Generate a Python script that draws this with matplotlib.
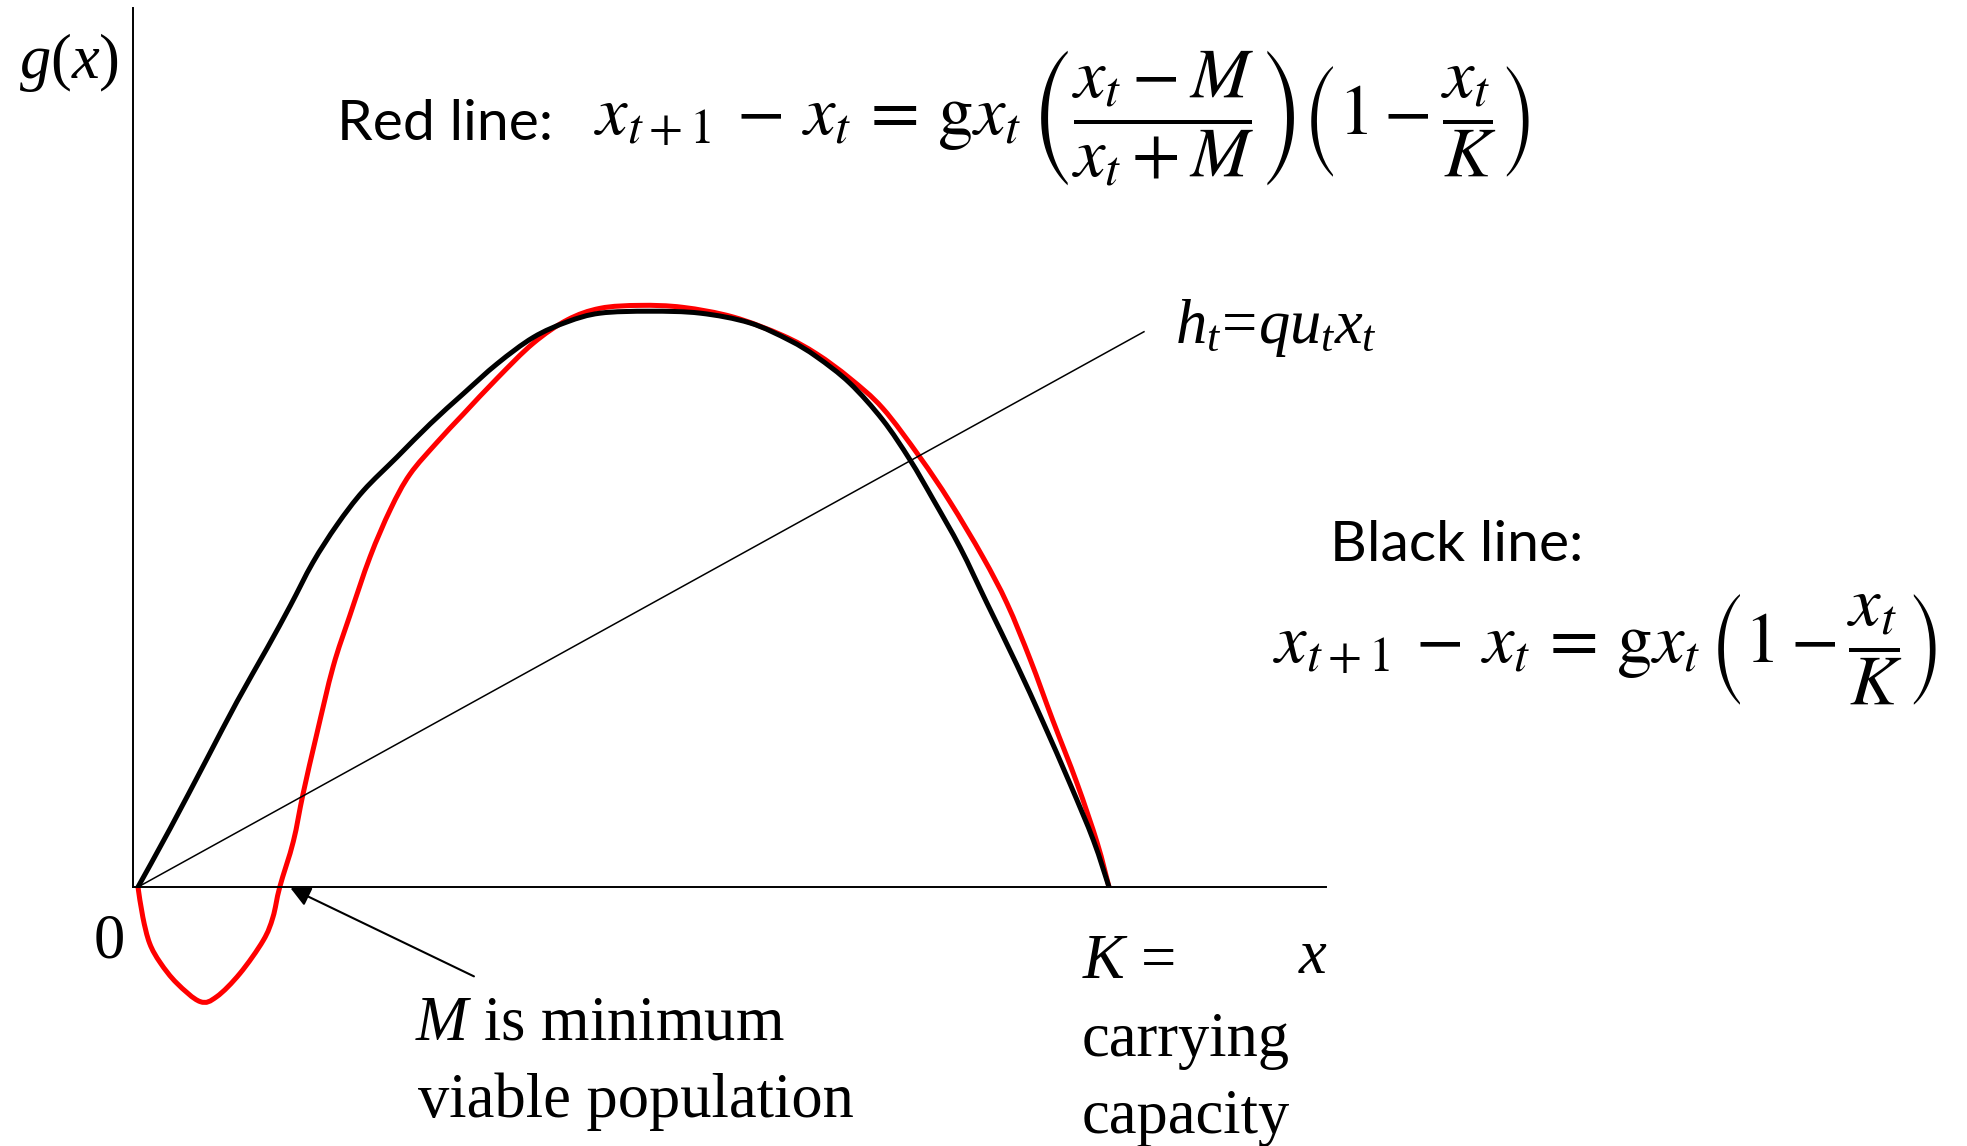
import numpy as np
import matplotlib
matplotlib.use("Agg")
import matplotlib.pyplot as plt
from matplotlib.path import Path
from matplotlib.patches import PathPatch

plt.rcParams['mathtext.fontset'] = 'custom'
plt.rcParams['mathtext.rm'] = 'Liberation Serif'
plt.rcParams['mathtext.it'] = 'Liberation Serif:italic'
plt.rcParams['mathtext.bf'] = 'Liberation Serif:bold'

# carrying capacity and minimum viable population
K = 100.0
M = 14.6

# logistic growth (black)
black_x = [0.0, 3.3, 7.1, 10.2, 13.3, 15.7, 18.0, 20.5, 23.2, 26.7, 30.1, 33.5, 37.0,
           40.7, 44.2, 47.6, 52.7, 57.9, 63.0, 67.1, 69.9, 73.3, 76.7, 79.5, 81.9,
           84.7, 87.4, 90.5, 93.2, 96.0, 98.4, 100.0]
black_y = [0.0, 6.0, 13.2, 19.1, 24.6, 29.0, 33.4, 37.3, 40.8, 44.3, 47.7, 50.8, 53.9,
           56.6, 58.2, 59.1, 59.3, 59.1, 58.1, 56.3, 54.6, 51.9, 48.1, 44.0, 39.9,
           34.9, 29.3, 22.9, 17.0, 10.6, 4.8, 0.0]

# growth with depensation (red)
red_x = [0.0, 0.5, 1.2, 2.3, 4.0, 6.4, 8.1, 10.5, 12.9, 13.9, 14.6, 16.0, 17.0, 18.4,
         20.1, 21.8, 23.9, 26.0, 28.0, 30.8, 33.5, 37.0, 40.7, 44.2, 47.6, 51.7, 56.1,
         61.3, 66.4, 69.9, 73.3, 76.7, 80.5, 83.6, 87.0, 89.5, 91.9, 94.2, 96.7, 98.8, 100.0]
red_y = [0.0, -3.1, -5.8, -7.8, -9.9, -11.8, -11.3, -8.9, -5.5, -3.1, 0.0, 4.7, 9.6, 15.7,
         22.7, 27.9, 34.0, 38.9, 42.5, 45.8, 48.7, 52.4, 56.0, 58.4, 59.6, 59.9, 59.7,
         58.7, 56.8, 54.9, 52.4, 49.3, 44.3, 39.7, 34.0, 29.2, 23.4, 17.2, 10.7, 4.5, 0.0]

# harvest h = q*u*x
qu = 0.552
harvest_x = [0.0, 103.6]


def smooth_path(xs, ys):
    # cubic Bezier through the given points (Catmull-Rom tangents)
    p = np.column_stack([xs, ys]).astype(float)
    ext = np.vstack([p[0], p, p[-1]])
    verts = [p[0]]
    codes = [Path.MOVETO]
    for i in range(len(p) - 1):
        p0, p1, p2, p3 = ext[i], ext[i + 1], ext[i + 2], ext[i + 3]
        verts += [p1 + (p2 - p0) / 6, p2 - (p3 - p1) / 6, p2]
        codes += [Path.CURVE4] * 3
    return Path(verts, codes)


W, H = 1967, 1146
fig = plt.figure(figsize=(W / 100, H / 100), dpi=100)
ax = fig.add_axes([0, 0, 1, 1])
ax.set_xlim(-14.21, 188.36)
ax.set_ylim(-26.67, 91.35)
ax.axis('off')

# axes drawn by hand
ax.plot([-0.5, -0.5], [0, 90.5], color='black', lw=1.4)
ax.plot([-0.5, 122.3], [0, 0], color='black', lw=1.4)

ax.plot(harvest_x, [qu * v for v in harvest_x], color='black', lw=1.1)
ax.add_patch(PathPatch(smooth_path(red_x, red_y), fill=False, edgecolor='#ff0000',
                       lw=3.6, joinstyle='round', capstyle='butt'))
ax.add_patch(PathPatch(smooth_path(black_x, black_y), fill=False, edgecolor='black',
                       lw=3.6, joinstyle='round', capstyle='butt'))

ax.annotate('', xy=(M + 1.1, -0.1), xytext=(34.6, -9.2),
            arrowprops=dict(arrowstyle='-|>', color='black', lw=1.5, mutation_scale=30,
                            shrinkA=0, shrinkB=0))


def put(x, y, s, **kw):
    fig.text(x / W, 1 - y / H, s, **kw)


serif = dict(family='Liberation Serif', size=45, va='baseline', ha='left')
sans = dict(family='Lato', size=41, va='baseline', ha='left')

put(19, 78, r'$g(x)$', **serif)
put(94, 958, '0', **serif)
put(415, 1040, r'$M$ is minimum', **serif)
put(418, 1117, 'viable population', **serif)
put(1082, 978, r'$K$ =', **serif)
put(1298, 973, r'$x$', **serif)
put(1082, 1056, 'carrying', **serif)
put(1082, 1133, 'capacity', **serif)
put(1175, 343, r'$h_t\!=\!qu_tx_t$', **serif)

put(337, 140, 'Red line:', **sans)
put(1330, 561, 'Black line:', **sans)

red_eq = (r'$x_{t+1}\,-\,x_t\,=\,\mathrm{g}x_t\,\left(\dfrac{x_t - M}{x_t + M}\right)'
          r'\left(1 - \dfrac{x_t}{K}\right)$')
black_eq = r'$x_{t+1}\,-\,x_t\,=\,\mathrm{g}x_t\,\left(1 - \dfrac{x_t}{K}\right)$'
put(594, 118, red_eq, size=51, math_fontfamily='stix', va='center', ha='left')
put(1273, 650, black_eq, size=51, math_fontfamily='stix', va='center', ha='left')

fig.savefig('out.png', dpi=100, facecolor='white')
